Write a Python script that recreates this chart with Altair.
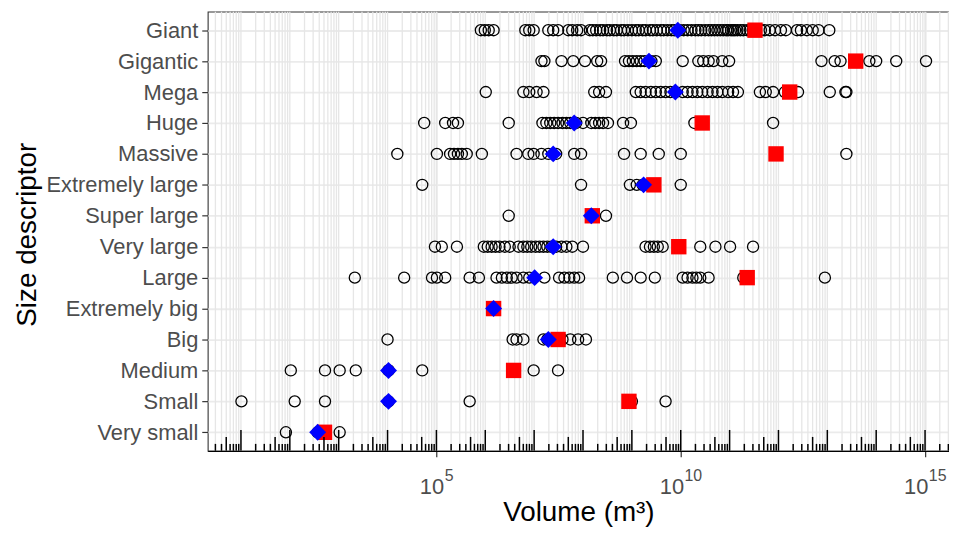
import altair as alt
import pandas as pd

categories = ["Giant", "Gigantic", "Mega", "Huge", "Massive", "Extremely large",
              "Super large", "Very large", "Large", "Extremely big", "Big",
              "Medium", "Small", "Very small"]

# log10 of the volume (m^3) of each individual object, per size descriptor
giant = [5.91, 5.99, 6.07, 6.17, 6.82, 6.90, 6.99, 7.29, 7.39, 7.49, 7.70, 7.78, 7.88, 7.96,
         8.14, 8.20, 8.27, 8.35, 8.41, 8.49, 8.55, 8.63, 8.69, 8.78, 8.84, 8.92, 9.00, 9.08,
         9.14, 9.22, 9.28, 9.37, 9.43, 9.51, 9.59, 9.65, 9.73, 9.81, 9.87, 9.98, 10.06, 10.14,
         10.22, 10.30, 10.36, 10.42, 10.50, 10.57, 10.63, 10.69, 10.75, 10.81, 10.87, 10.93,
         10.97, 11.03, 11.07, 11.11, 11.16, 11.22, 11.28, 11.36, 11.42, 11.48, 11.64, 11.72,
         11.82, 11.93, 12.05, 12.15, 12.38, 12.46, 12.58, 12.70, 12.82, 13.04]
gigantic = [7.15, 7.21, 7.56, 7.80, 8.04, 8.29, 8.37, 8.86, 8.94, 9.02, 9.10, 9.18, 9.26,
            9.40, 9.49, 10.04, 10.36, 10.46, 10.57, 10.67, 10.85, 10.99, 12.88, 13.15,
            13.27, 13.86, 14.00, 14.41, 15.02]
mega = [6.01, 6.78, 6.90, 7.05, 7.19, 8.23, 8.33, 8.47, 9.08, 9.18, 9.28, 9.39, 9.49, 9.59,
        9.69, 9.79, 9.89, 10.04, 10.14, 10.24, 10.34, 10.44, 10.55, 10.65, 10.75, 10.85,
        10.97, 11.07, 11.17, 11.62, 11.74, 11.89, 12.13, 12.40, 13.05, 13.37, 13.39]
huge = [4.75, 5.18, 5.34, 5.44, 6.48, 7.17, 7.25, 7.33, 7.41, 7.49, 7.58, 7.66, 7.74, 7.86,
        8.00, 8.17, 8.25, 8.33, 8.41, 8.51, 8.82, 8.98, 10.28, 11.89]
massive = [4.20, 5.01, 5.28, 5.36, 5.44, 5.52, 5.62, 5.93, 6.64, 6.88, 6.99, 7.15, 7.29,
           7.45, 7.82, 7.96, 8.84, 9.18, 9.55, 10.00, 13.39]
extremely_large = [4.71, 7.96, 8.96, 9.10, 9.22, 9.30, 10.00]
super_large = [6.48, 8.17, 8.47]
very_large = [4.97, 5.11, 5.42, 5.97, 6.05, 6.13, 6.21, 6.29, 6.40, 6.50, 6.68, 6.78, 6.86,
              6.94, 7.03, 7.11, 7.19, 7.27, 7.35, 7.45, 7.56, 7.66, 7.78, 8.00, 9.28, 9.37,
              9.45, 9.53, 9.63, 10.40, 10.71, 11.01, 11.48]
large = [3.33, 4.34, 4.91, 5.01, 5.18, 5.68, 5.87, 6.23, 6.34, 6.44, 6.54, 6.64, 6.78, 6.90,
         7.21, 7.51, 7.62, 7.72, 7.82, 7.92, 8.61, 8.90, 9.18, 9.47, 10.04, 10.14, 10.24,
         10.32, 10.40, 10.57, 11.28, 12.95]
extremely_big = [6.17]
big = [4.00, 6.56, 6.64, 6.78, 7.19, 7.27, 7.41, 7.58, 7.74, 7.90, 8.06]
medium = [2.02, 2.72, 3.02, 3.35, 4.02, 4.02, 4.71, 6.99, 7.49]
small = [1.01, 2.10, 2.72, 4.02, 5.68, 9.00, 9.69]
very_small = [1.92, 2.57, 3.02]

series = [giant, gigantic, mega, huge, massive, extremely_large, super_large,
          very_large, large, extremely_big, big, medium, small, very_small]

# log10 of the mean (red squares) and median (blue diamonds) per descriptor
mean_log10 = [11.52, 13.58, 12.23, 10.44, 11.95, 9.45, 8.19, 9.96, 11.36, 6.17, 7.49,
              6.58, 8.94, 2.71]
median_log10 = [9.94, 9.35, 9.89, 7.82, 7.39, 9.24, 8.17, 7.39, 7.01, 6.17, 7.29,
                4.02, 4.02, 2.57]

# x tick labels: base "10" with a superscript exponent
x_tick_values = [1e5, 1e10, 1e15]
x_tick_base = ["10", "10", "10"]
x_tick_exponents = ["5", "10", "15"]

# ---------------------------------------------------------------- tables
pts = pd.DataFrame([{"category": c, "volume": 10 ** v}
                    for c, vals in zip(categories, series) for v in vals])
means = pd.DataFrame({"category": categories, "volume": [10 ** v for v in mean_log10]})
medians = pd.DataFrame({"category": categories, "volume": [10 ** v for v in median_log10]})

lo, hi = 10 ** 0.32, 10 ** 15.49
log_ticks = pd.DataFrame([{"volume": n * 10 ** k, "kind": "long" if n == 1 else ("mid" if n == 5 else "short")}
                          for k in range(0, 16) for n in range(1, 10)
                          if lo <= n * 10 ** k <= hi])

FONT = "Liberation Sans"
W, H = 746, 442
LABEL_SIZE, SUP_SIZE = 22, 16

xscale = alt.Scale(type="log", domain=[lo, hi], nice=False)
xaxis = alt.Axis(values=x_tick_values, labels=False, title="Volume (m\u00b3)",
                 grid=True, gridColor="#E6E6E6", gridWidth=1.8,
                 ticks=True, tickColor="#333333", tickSize=6, tickWidth=1.2,
                 domain=True, domainColor="#000000", domainWidth=1.4,
                 titleFont=FONT, titleFontSize=28, titleFontWeight="normal", titleColor="#000000",
                 titleX=373, titleY=70, titleBaseline="alphabetic", titleAlign="center")
xenc = alt.X("volume:Q", scale=xscale, axis=xaxis)

yscale = alt.Scale(type="point", domain=categories, padding=0.6)
yaxis = alt.Axis(title="Size descriptor", grid=True, gridColor="#EBEBEB", gridWidth=1.8,
                 ticks=True, tickColor="#333333", tickSize=6, tickWidth=1.2, domain=False,
                 labelFont=FONT, labelFontSize=LABEL_SIZE, labelColor="#4D4D4D", labelPadding=4,
                 titleFont=FONT, titleFontSize=28, titleFontWeight="normal", titleColor="#000000",
                 titleX=-173, titleY=224, titleAngle=-90, titleBaseline="alphabetic",
                 titleAlign="center")
yenc = alt.Y("category:N", scale=yscale, axis=yaxis, sort=categories)

minor_grid = alt.Chart(log_ticks).mark_rule(color="#E6E6E6", strokeWidth=1.3).encode(x=xenc)

circles = alt.Chart(pts).mark_point(shape="circle", filled=False, stroke="#000000",
                                    strokeWidth=1.3, size=125, opacity=1).encode(x=xenc, y=yenc)
squares = alt.Chart(means).mark_point(shape="square", filled=True, color="#FF0000",
                                      size=240, opacity=1).encode(x=xenc, y=yenc)
diamonds = alt.Chart(medians).mark_point(shape="diamond", filled=True, color="#0000FF",
                                         size=290, opacity=1).encode(x=xenc, y=yenc)

rugs = []
for kind, length in [("short", 7), ("mid", 14), ("long", 21)]:
    rugs.append(
        alt.Chart(log_ticks).transform_filter(alt.datum.kind == kind)
        .mark_rule(color="#000000", strokeWidth=1.5)
        .encode(x=xenc, y=alt.value(H), y2=alt.value(H - length))
    )

# superscript tick labels, centred as a whole on their tick
tick_labels = []
for v, b, e in zip(x_tick_values, x_tick_base, x_tick_exponents):
    wb = 0.556 * LABEL_SIZE * len(b)
    we = 0.556 * SUP_SIZE * len(e)
    split = -(wb + we) / 2 + wb
    d = pd.DataFrame({"volume": [v], "base": [b], "exp": [e]})
    tick_labels.append(
        alt.Chart(d).mark_text(font=FONT, fontSize=LABEL_SIZE, color="#4D4D4D", align="right",
                               baseline="alphabetic", dx=split)
        .encode(x=xenc, y=alt.value(H + 43), text="base:N")
    )
    tick_labels.append(
        alt.Chart(d).mark_text(font=FONT, fontSize=SUP_SIZE, color="#4D4D4D", align="left",
                               baseline="alphabetic", dx=split + 0.5)
        .encode(x=xenc, y=alt.value(H + 30), text="exp:N")
    )

chart = alt.layer(minor_grid, circles, squares, diamonds, *rugs, *tick_labels).properties(
    width=W, height=H,
    autosize=alt.AutoSizeParams(type="none"),
    padding={"left": 201, "top": 2, "right": 0, "bottom": 76},
    background="white",
).configure_view(stroke="#333333", strokeWidth=1.1)

chart.save("out.html", embed_options={"renderer": "svg", "actions": False})
